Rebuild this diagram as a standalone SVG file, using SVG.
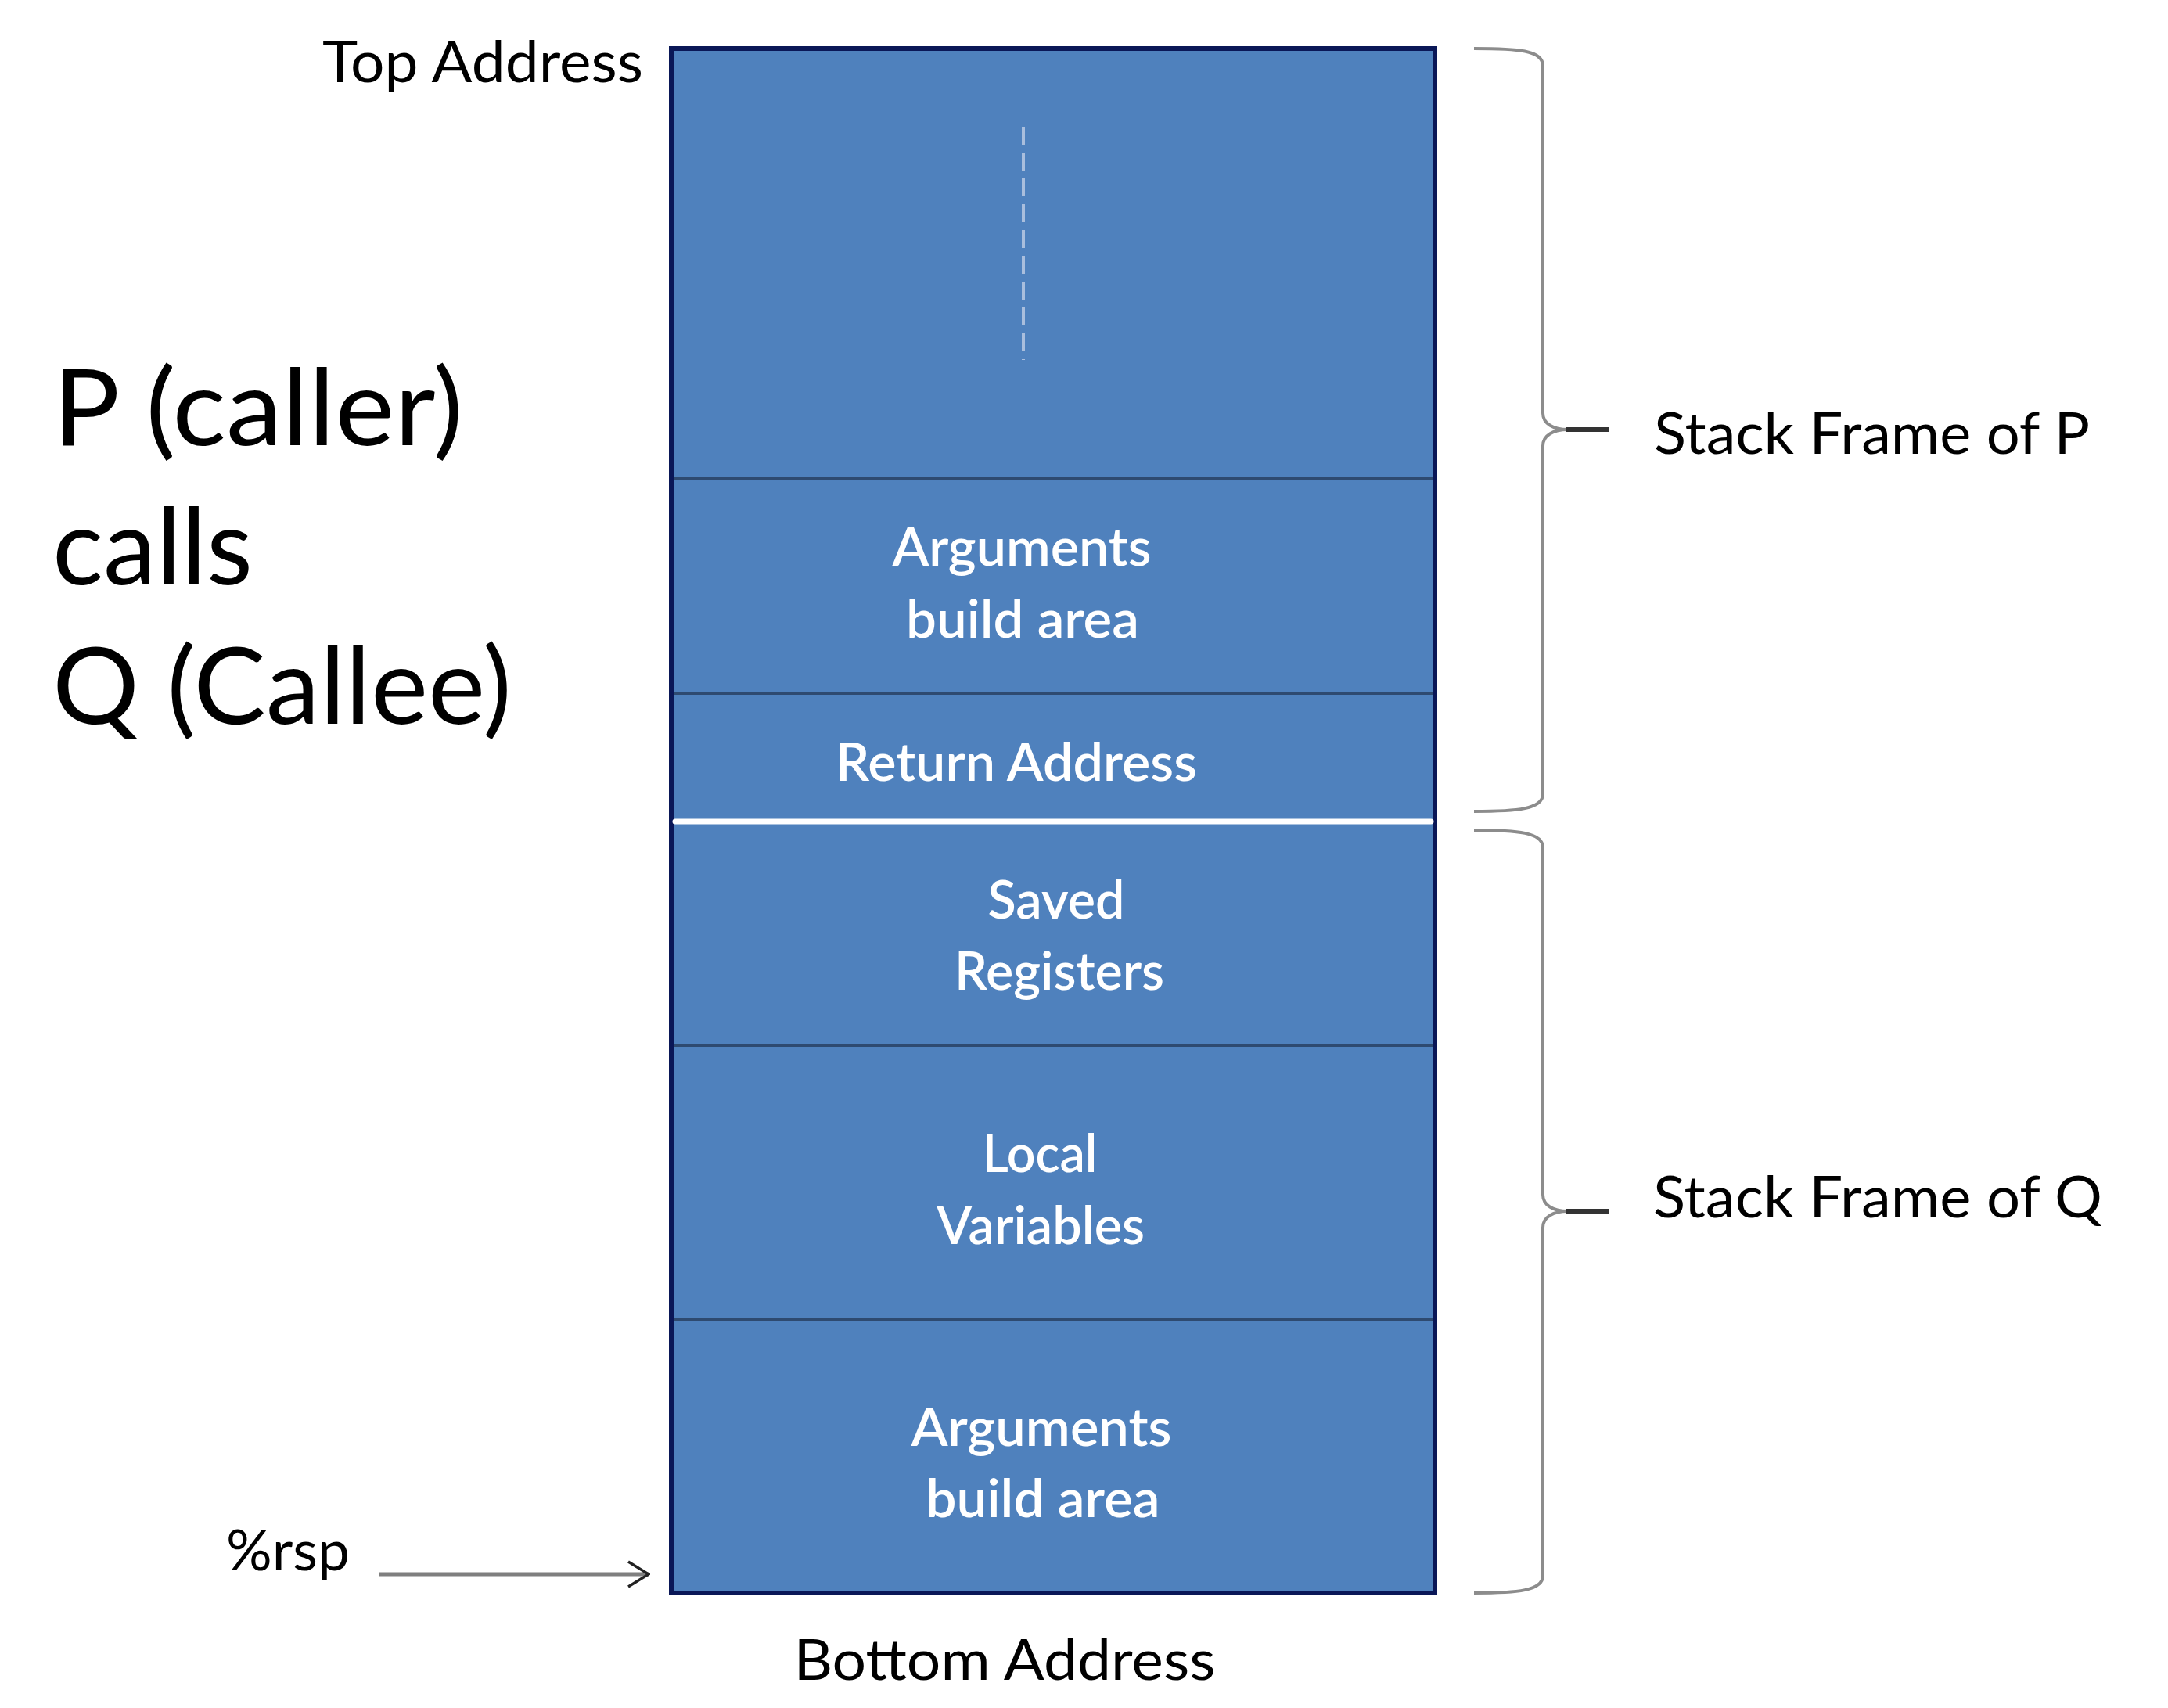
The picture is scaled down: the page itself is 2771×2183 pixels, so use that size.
<svg xmlns="http://www.w3.org/2000/svg" width="2771" height="2183" viewBox="0 0 2771 2183">
  <defs>
    <style>
      .blk { fill: #4F81BD; stroke: #2E4A70; stroke-width: 4; }
      .in { font-family: Lato, "Open Sans", sans-serif; font-size: 68px; fill: #FFFFFF; text-anchor: middle; font-weight: 600; }
      .lbl { font-family: Lato, "Open Sans", sans-serif; fill: #000000; }
      .brace { fill: none; stroke: #8C8C8C; stroke-width: 4; stroke-linejoin: round; }
      .tick { stroke: #333333; stroke-width: 6; }
    </style>
    <marker id="chev" viewBox="0 0 30 36" refX="28" refY="18" markerWidth="30" markerHeight="36" markerUnits="userSpaceOnUse" orient="auto">
      <path d="M2,2 L28,18 L2,34" fill="none" stroke="#222222" stroke-width="3.5"/>
    </marker>
  </defs>
  <rect width="2771" height="2183" fill="#FFFFFF"/>

  <g id="block-p-top">
    <rect class="blk" x="858" y="62" width="976" height="550"/>
    <line x1="1308" y1="162" x2="1308" y2="460" stroke="#A9BEDD" stroke-width="4" stroke-dasharray="23 10"/>
  </g>
  <g id="block-args-p">
    <rect class="blk" x="858" y="612" width="976" height="274"/>
    <text class="in" x="1306" y="723" textLength="331" lengthAdjust="spacingAndGlyphs">Arguments</text>
    <text class="in" x="1307" y="815" textLength="298" lengthAdjust="spacingAndGlyphs">build area</text>
  </g>
  <g id="block-return">
    <rect class="blk" x="858" y="886" width="976" height="164"/>
    <text class="in" x="1299" y="998" textLength="462" lengthAdjust="spacingAndGlyphs">Return Address</text>
  </g>
  <g id="block-saved">
    <rect class="blk" x="858" y="1050" width="976" height="286"/>
    <text class="in" x="1350" y="1174" textLength="175" lengthAdjust="spacingAndGlyphs">Saved</text>
    <text class="in" x="1354" y="1265" textLength="268" lengthAdjust="spacingAndGlyphs">Registers</text>
  </g>
  <g id="block-local">
    <rect class="blk" x="858" y="1336" width="976" height="350"/>
    <text class="in" x="1329" y="1498" textLength="147" lengthAdjust="spacingAndGlyphs">Local</text>
    <text class="in" x="1330" y="1590" textLength="266" lengthAdjust="spacingAndGlyphs">Variables</text>
  </g>
  <g id="block-args-q">
    <rect class="blk" x="858" y="1686" width="976" height="350"/>
    <text class="in" x="1331" y="1848" textLength="333" lengthAdjust="spacingAndGlyphs">Arguments</text>
    <text class="in" x="1333" y="1939" textLength="299" lengthAdjust="spacingAndGlyphs">build area</text>
  </g>
  <g id="stack-outline">
    <rect x="858" y="62" width="976" height="1974" fill="none" stroke="#0A1757" stroke-width="6"/>
    <line x1="863" y1="1050" x2="1829" y2="1050" stroke="#FFFFFF" stroke-width="7" stroke-linecap="round"/>
  </g>

  <g id="labels">
    <text class="lbl" x="617" y="105" font-size="74" text-anchor="middle" textLength="410" lengthAdjust="spacingAndGlyphs">Top Address</text>
    <text class="lbl" x="1284" y="2147" font-size="72" text-anchor="middle" textLength="539" lengthAdjust="spacingAndGlyphs">Bottom Address</text>
    <text class="lbl" x="368" y="2007" font-size="72" text-anchor="middle" textLength="158" lengthAdjust="spacingAndGlyphs">%rsp</text>
    <text class="lbl" x="67" y="569" font-size="136" textLength="525" lengthAdjust="spacingAndGlyphs">P (caller)</text>
    <text class="lbl" x="67" y="747" font-size="136" textLength="256" lengthAdjust="spacingAndGlyphs">calls</text>
    <text class="lbl" x="67" y="925" font-size="136" textLength="587" lengthAdjust="spacingAndGlyphs">Q (Callee)</text>
    <text class="lbl" x="2114" y="580" font-size="73" textLength="557" lengthAdjust="spacingAndGlyphs">Stack Frame of P</text>
    <text class="lbl" x="2113" y="1556" font-size="73" textLength="574" lengthAdjust="spacingAndGlyphs">Stack Frame of Q</text>
  </g>

  <g id="connectors">
    <line x1="484" y1="2012" x2="829" y2="2012" stroke="#7F7F7F" stroke-width="5" marker-end="url(#chev)"/>
    <path class="brace" d="M1884,62 C1940,62 1972,64 1972,84 L1972,528 C1972,542 1986,549 2004,549 C1986,549 1972,556 1972,570 L1972,1015 C1972,1034 1940,1037 1884,1037"/>
    <line class="tick" x1="2002" y1="549" x2="2057" y2="549"/>
    <path class="brace" d="M1884,1061 C1940,1061 1972,1064 1972,1083 L1972,1527 C1972,1541 1986,1548 2004,1548 C1986,1548 1972,1555 1972,1569 L1972,2014 C1972,2033 1940,2036 1884,2036"/>
    <line class="tick" x1="2002" y1="1548" x2="2057" y2="1548"/>
  </g>
</svg>
